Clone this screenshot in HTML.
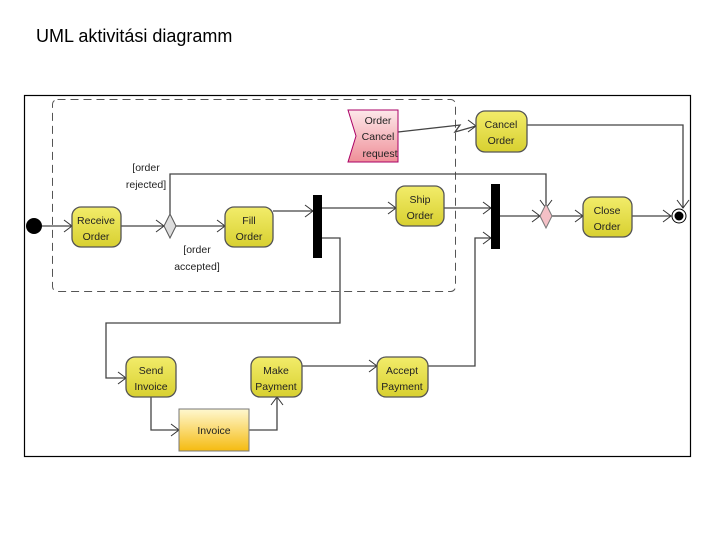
<!DOCTYPE html>
<html><head><style>
body{margin:0;background:#fff;width:720px;height:540px;overflow:hidden}
svg text{font-family:"Liberation Sans",sans-serif}
</style></head><body>
<svg width="720" height="540" viewBox="0 0 720 540" xmlns="http://www.w3.org/2000/svg">
<defs>
<linearGradient id="y" x1="0" y1="0" x2="0" y2="1"><stop offset="0" stop-color="#f2ec6a"/><stop offset="1" stop-color="#d8d030"/></linearGradient>
<linearGradient id="o" x1="0" y1="0" x2="0" y2="1"><stop offset="0" stop-color="#fff8d0"/><stop offset="1" stop-color="#f5bb10"/></linearGradient>
<linearGradient id="p" x1="0" y1="0" x2="0" y2="1"><stop offset="0" stop-color="#fde8ea"/><stop offset="1" stop-color="#ef8f98"/></linearGradient>
</defs>
<text x="36" y="42" font-size="18" fill="#000">UML aktivitási diagramm</text>
<rect x="24.5" y="95.5" width="666" height="361" fill="#fff" stroke="#000" stroke-width="1.2"/>
<rect x="52.5" y="99.5" width="403" height="192" rx="5" fill="none" stroke="#555" stroke-dasharray="8,5"/>
<g fill="none" stroke="#444" stroke-width="1.3">
<path d="M42 226H72M121 226H164M176 226H225M273 211H313M322 208H396M444 208H491M500 216H540M552 216H583M632 216H671"/>
<path d="M170 214V174H546V208"/>
<path d="M322 238H340V323H106V378H126"/>
<path d="M428 366H475V238H491"/>
<path d="M302 366H377"/>
<path d="M151 397V430H179M249 430H277V397"/>
<path d="M398 132L460 125L455 132L476 126"/>
<path d="M527 125H683V208"/>
</g>
<g fill="none" stroke="#333" stroke-width="1">
<path d="M64 220L72 226L64 232M156 220L164 226L156 232M217 220L225 226L217 232M305 205L313 211L305 217M388 202L396 208L388 214M483 202L491 208L483 214M483 232L491 238L483 244M532 210L540 216L532 222M575 210L583 216L575 222M663 210L671 216L663 222M540 200L546 208L552 200M677 200L683 208L689 200M118 372L126 378L118 384M369 360L377 366L369 372M171 424L179 430L171 436M271 405L277 397L283 405M468 120L476 126L468 132"/>
</g>
<circle cx="34" cy="226" r="8" fill="#000"/>
<circle cx="679" cy="216" r="7" fill="#fff" stroke="#000"/>
<circle cx="679" cy="216" r="4.5" fill="#000"/>
<rect x="313" y="195" width="9" height="63" fill="#000"/>
<rect x="491" y="184" width="9" height="65" fill="#000"/>
<path d="M170 214L176 226L170 238L164 226Z" fill="#ddd" stroke="#555"/>
<path d="M546 204L552 216L546 228L540 216Z" fill="#f4c0c6" stroke="#777"/>
<path d="M348 110H398V162H348L356 136Z" fill="url(#p)" stroke="#a06"/>
<g fill="url(#y)" stroke="#555" stroke-width="1.3">
<rect x="72" y="207" width="49" height="40" rx="9"/>
<rect x="225" y="207" width="48" height="40" rx="9"/>
<rect x="396" y="186" width="48" height="40" rx="9"/>
<rect x="583" y="197" width="49" height="40" rx="9"/>
<rect x="476" y="111" width="51" height="41" rx="9"/>
<rect x="126" y="357" width="50" height="40" rx="9"/>
<rect x="251" y="357" width="51" height="40" rx="9"/>
<rect x="377" y="357" width="51" height="40" rx="9"/>
</g>
<rect x="179" y="409" width="70" height="42" fill="url(#o)" stroke="#777"/>
<g font-size="10.5" fill="#222" text-anchor="middle">
<text x="96" y="224">Receive</text><text x="96" y="240">Order</text>
<text x="249" y="224">Fill</text><text x="249" y="240">Order</text>
<text x="420" y="203">Ship</text><text x="420" y="219">Order</text>
<text x="607" y="214">Close</text><text x="607" y="230">Order</text>
<text x="501" y="128">Cancel</text><text x="501" y="144">Order</text>
<text x="151" y="374">Send</text><text x="151" y="390">Invoice</text>
<text x="276" y="374">Make</text><text x="276" y="390">Payment</text>
<text x="402" y="374">Accept</text><text x="402" y="390">Payment</text>
<text x="214" y="434">Invoice</text>
<text x="378" y="124">Order</text><text x="378" y="140">Cancel</text><text x="380" y="157">request</text>
<text x="146" y="171">[order</text><text x="146" y="188">rejected]</text>
<text x="197" y="253">[order</text><text x="197" y="270">accepted]</text>
</g>
</svg>
</body></html>
